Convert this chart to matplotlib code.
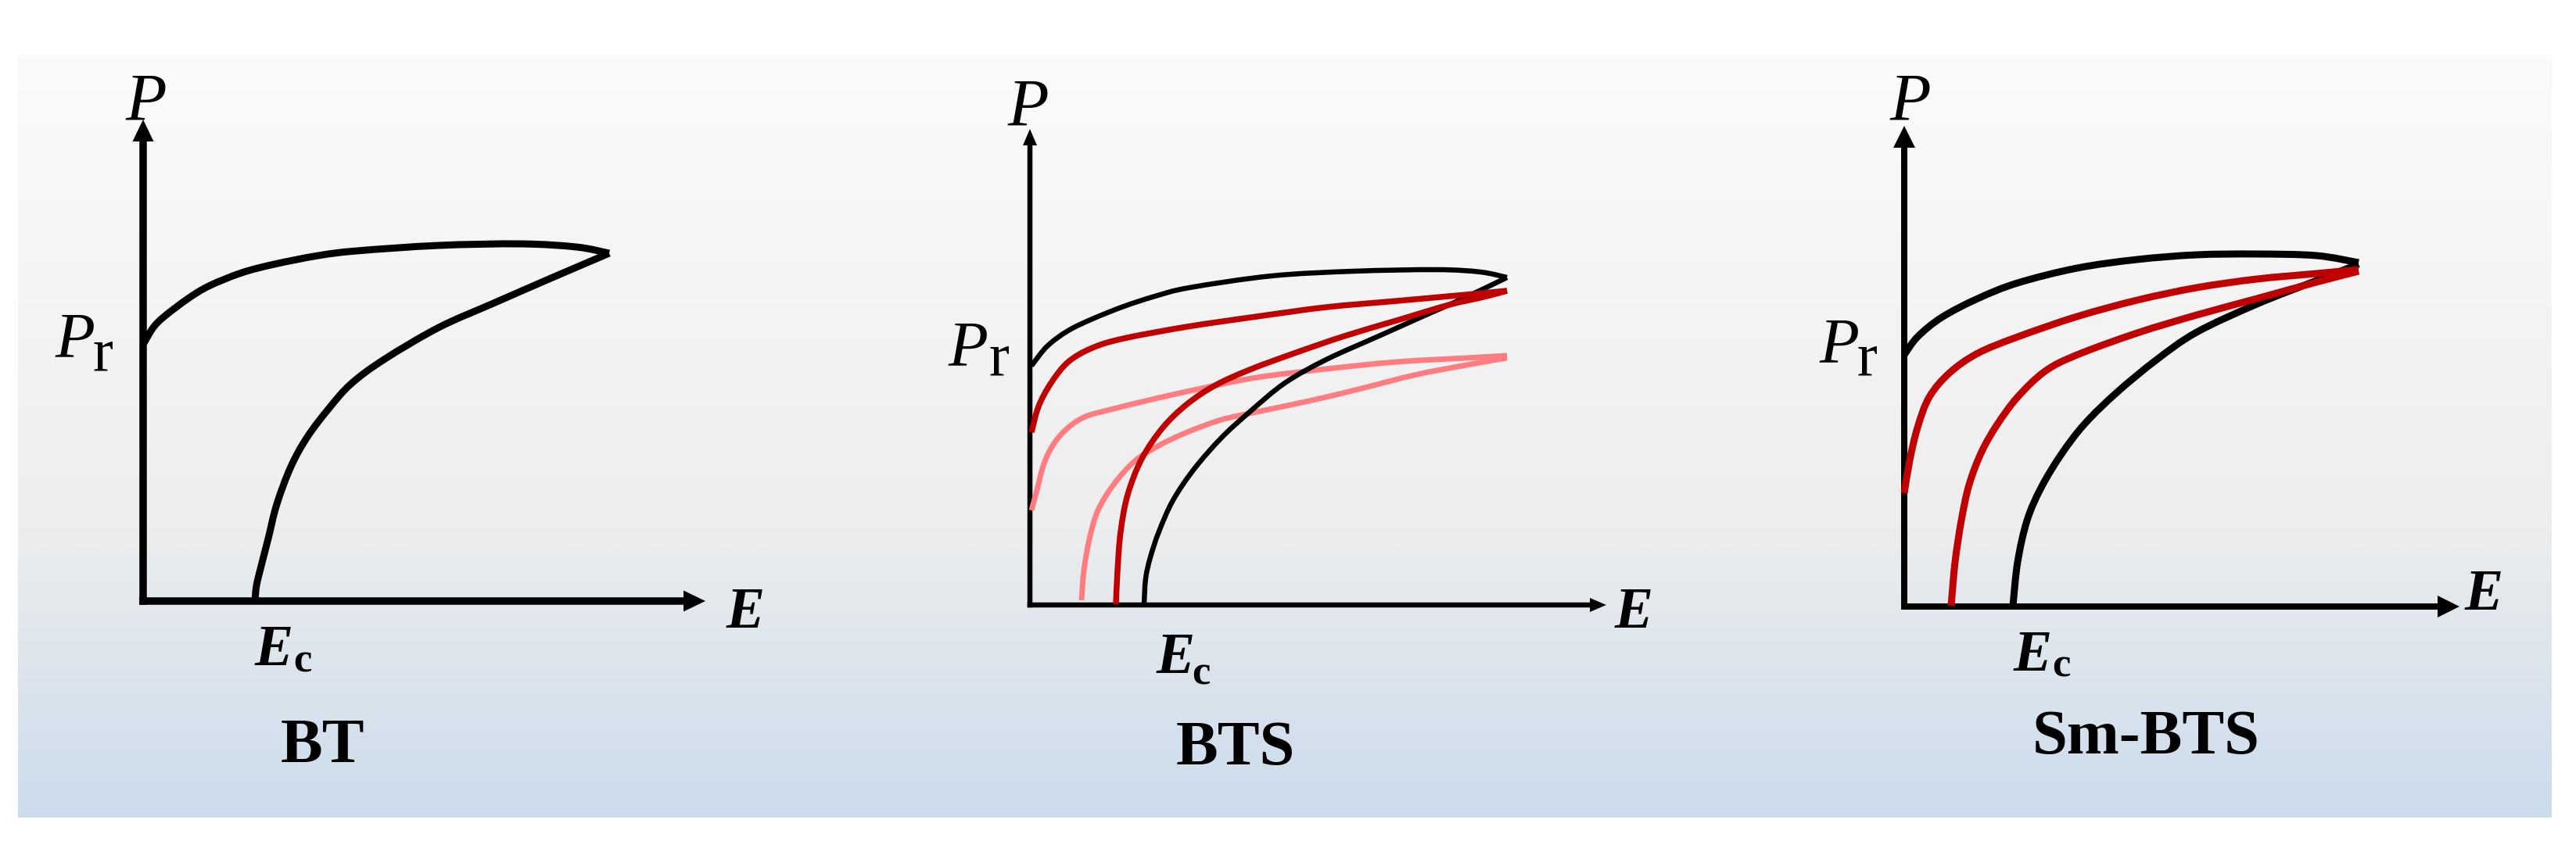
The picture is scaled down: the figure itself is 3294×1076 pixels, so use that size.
import numpy as np
import matplotlib.pyplot as plt
from matplotlib.colors import LinearSegmentedColormap
from matplotlib.path import Path
from matplotlib.patches import PathPatch

W, H = 3294, 1076
DPI = 100

# Schematic P-E branches (E, P in arbitrary units, origin at the axis corner)
# BT
bt_up_E = [0.01, 0.13, 0.27, 0.56, 0.84, 1.26, 1.68, 2.24, 2.73, 3.78, 4.83, 5.54, 5.96]
bt_up_P = [3.30, 3.50, 3.64, 3.86, 4.03, 4.20, 4.31, 4.42, 4.48, 4.55, 4.57, 4.53, 4.45]
bt_dn_E = [5.96, 5.19, 4.48, 3.78, 3.08, 2.66, 2.38, 2.10, 1.89, 1.71, 1.60, 1.51, 1.45, 1.43]
bt_dn_P = [4.45, 4.12, 3.81, 3.50, 3.09, 2.78, 2.47, 2.10, 1.72, 1.24, 0.80, 0.45, 0.20, 0.0]

# BTS
bts_k_up_E = [0.02, 0.22, 0.49, 0.80, 1.20, 1.60, 2.04, 3.09, 4.14, 5.20, 5.76, 6.10]
bts_k_up_P = [3.06, 3.31, 3.51, 3.66, 3.82, 3.95, 4.06, 4.21, 4.27, 4.29, 4.26, 4.19]
bts_k_dn_E = [6.10, 5.58, 5.13, 4.46, 3.79, 3.26, 2.81, 2.45, 2.10, 1.83, 1.65, 1.54, 1.48, 1.46]
bts_k_dn_P = [4.19, 3.94, 3.74, 3.44, 3.14, 2.84, 2.47, 2.14, 1.74, 1.34, 0.94, 0.61, 0.34, 0.02]
bts_r_up_E = [0.02, 0.11, 0.27, 0.49, 0.80, 1.20, 2.01, 2.90, 3.79, 4.69, 5.58, 6.10]
bts_r_up_P = [2.21, 2.54, 2.84, 3.11, 3.29, 3.41, 3.56, 3.69, 3.81, 3.89, 3.97, 4.02]
bts_r_dn_E = [6.10, 5.80, 5.36, 4.69, 4.02, 3.35, 2.81, 2.37, 2.01, 1.70, 1.43, 1.25, 1.16, 1.12, 1.10]
bts_r_dn_P = [4.02, 3.94, 3.84, 3.64, 3.44, 3.21, 3.01, 2.81, 2.57, 2.27, 1.87, 1.41, 0.94, 0.44, 0.01]
bts_p_up_E = [0.02, 0.09, 0.18, 0.31, 0.49, 0.71, 1.03, 1.56, 2.19, 2.90, 3.79, 4.69, 5.58, 6.10]
bts_p_up_P = [1.21, 1.47, 1.81, 2.07, 2.27, 2.41, 2.50, 2.63, 2.77, 2.91, 3.02, 3.11, 3.16, 3.19]
bts_p_dn_E = [6.10, 5.58, 4.91, 4.24, 3.57, 2.90, 2.45, 2.01, 1.65, 1.34, 1.07, 0.87, 0.76, 0.69, 0.66]
bts_p_dn_P = [3.16, 3.07, 2.94, 2.77, 2.61, 2.47, 2.37, 2.21, 2.04, 1.84, 1.54, 1.21, 0.84, 0.44, 0.06]

# Sm-BTS
sm_k_up_E = [0.0, 0.17, 0.48, 0.94, 1.45, 2.21, 2.98, 3.74, 4.51, 5.27, 5.81]
sm_k_up_P = [3.22, 3.45, 3.70, 3.94, 4.14, 4.33, 4.44, 4.50, 4.51, 4.49, 4.40]
sm_k_dn_E = [5.81, 5.27, 4.51, 3.74, 3.23, 2.72, 2.31, 2.01, 1.75, 1.57, 1.45, 1.39]
sm_k_dn_P = [4.38, 4.17, 3.87, 3.51, 3.16, 2.74, 2.34, 1.95, 1.52, 1.10, 0.57, 0.01]
sm_r_up_E = [0.0, 0.07, 0.17, 0.32, 0.58, 0.94, 1.45, 2.21, 2.98, 3.74, 4.51, 5.27, 5.81]
sm_r_up_P = [1.45, 1.87, 2.29, 2.68, 2.99, 3.24, 3.45, 3.71, 3.92, 4.08, 4.19, 4.26, 4.31]
sm_r_dn_E = [5.81, 5.27, 4.51, 3.74, 2.98, 2.21, 1.80, 1.45, 1.19, 0.99, 0.83, 0.73, 0.65, 0.60]
sm_r_dn_P = [4.29, 4.15, 3.94, 3.73, 3.50, 3.22, 3.01, 2.68, 2.33, 1.98, 1.56, 1.10, 0.57, 0.01]

titles = ['BT', 'BTS', 'Sm-BTS']

BLACK = 'black'
DARK_RED = '#c00000'
PINK = '#ff7c80'

# background gradient stops
bg_stops = [0.0, 0.6, 1.0]
bg_colors = ['#fbfbfb', '#eeeeee', '#cbdcec']

FONT = 'Liberation Serif'


def px(v):
    # pixels -> points at DPI
    return v * 72.0 / DPI


def smooth_path(E, P):
    # Catmull-Rom through the read points, as cubic bezier segments
    pts = np.column_stack([E, P]).astype(float)
    ext = np.vstack([pts[0], pts, pts[-1]])
    verts = [pts[0]]
    codes = [Path.MOVETO]
    for i in range(1, len(ext) - 2):
        p0, p1, p2, p3 = ext[i - 1], ext[i], ext[i + 1], ext[i + 2]
        verts += [p1 + (p2 - p0) / 6.0, p2 - (p3 - p1) / 6.0, p2]
        codes += [Path.CURVE4] * 3
    return Path(verts, codes)


fig = plt.figure(figsize=(W / DPI, H / DPI), dpi=DPI)
fig.patch.set_facecolor('white')

# background panel
ax_bg = fig.add_axes([0, 0, 1, 1])
ax_bg.set_xlim(0, W)
ax_bg.set_ylim(H, 0)
ax_bg.axis('off')
cmap = LinearSegmentedColormap.from_list('bg', list(zip(bg_stops, bg_colors)))
grad = np.linspace(0, 1, 256).reshape(-1, 1)
ax_bg.imshow(grad, cmap=cmap, aspect='auto', extent=[23, 3263, 1046, 70],
             interpolation='bilinear')

# layout for each panel: origin in px and drawing styles
layout = [
    dict(x0=183, y0=769, xtip=7.19, ytip=6.16, ax_lw=9.5, head=(28, 27),
         P=(0.04, 6.15), E=(7.46, -0.34), Pr=(-1.13, 3.13), r=(-0.64, 2.95),
         Ec=(1.43, -0.82), c=(1.92, -0.91), title=(2.29, -2.06)),
    dict(x0=1317, y0=774, xtip=7.37, ytip=6.09, ax_lw=6.5, head=(21, 18),
         P=(-0.02, 6.13), E=(7.48, -0.29), Pr=(-1.05, 3.07), r=(-0.52, 2.94),
         Ec=(1.62, -0.87), c=(2.07, -1.01), title=(2.63, -2.04)),
    dict(x0=2435, y0=776, xtip=7.10, ytip=6.15, ax_lw=8.0, head=(28, 28),
         P=(0.08, 6.22), E=(7.17, -0.04), Pr=(-1.09, 3.13), r=(-0.60, 2.96),
         Ec=(1.40, -0.82), c=(1.89, -0.89), title=(3.09, -1.88)),
]

curves = [
    [(bt_up_E, bt_up_P, BLACK, 9), (bt_dn_E, bt_dn_P, BLACK, 9)],
    [(bts_p_up_E, bts_p_up_P, PINK, 7), (bts_p_dn_E, bts_p_dn_P, PINK, 7),
     (bts_k_up_E, bts_k_up_P, BLACK, 6.5), (bts_k_dn_E, bts_k_dn_P, BLACK, 6.5),
     (bts_r_up_E, bts_r_up_P, DARK_RED, 7.5), (bts_r_dn_E, bts_r_dn_P, DARK_RED, 7.5)],
    [(sm_k_up_E, sm_k_up_P, BLACK, 9), (sm_k_dn_E, sm_k_dn_P, BLACK, 9),
     (sm_r_up_E, sm_r_up_P, DARK_RED, 9), (sm_r_dn_E, sm_r_dn_P, DARK_RED, 9)],
]

for lay, crv, title in zip(layout, curves, titles):
    x0, y0 = lay['x0'], lay['y0']
    ax = fig.add_axes([(x0 - 200) / W, (H - (y0 + 250)) / H, 1200 / W, 950 / H])
    ax.set_xlim(-2, 10)
    ax.set_ylim(-2.5, 7)
    ax.axis('off')
    ax.patch.set_alpha(0)

    w = lay['ax_lw'] / 100.0
    hl, hw = lay['head'][0] / 100.0, lay['head'][1] / 100.0
    ax.arrow(-w / 2, 0, lay['xtip'] + w / 2, 0, width=w, head_width=hw, head_length=hl,
             length_includes_head=True, fc='black', ec='none', zorder=2)
    ax.arrow(0, -w / 2, 0, lay['ytip'] + w / 2, width=w, head_width=hw, head_length=hl,
             length_includes_head=True, fc='black', ec='none', zorder=2)

    for E, P, col, lw in crv:
        ax.add_patch(PathPatch(smooth_path(E, P), fill=False, edgecolor=col,
                               lw=px(lw), joinstyle='round', capstyle='butt', zorder=3))

    ax.text(*lay['P'], 'P', family=FONT, style='italic', fontsize=62,
            ha='center', va='baseline')
    ax.text(*lay['E'], 'E', family=FONT, style='italic', weight='bold', fontsize=53,
            ha='left', va='baseline')
    ax.text(*lay['Pr'], 'P', family=FONT, style='italic', fontsize=60,
            ha='left', va='baseline')
    ax.text(*lay['r'], 'r', family=FONT, fontsize=56, ha='left', va='baseline')
    ax.text(*lay['Ec'], 'E', family=FONT, style='italic', weight='bold', fontsize=53,
            ha='left', va='baseline')
    ax.text(*lay['c'], 'c', family=FONT, weight='bold', fontsize=38,
            ha='left', va='baseline')
    ax.text(*lay['title'], title, family=FONT, weight='bold', fontsize=58,
            ha='center', va='baseline')

fig.savefig('out.png', dpi=DPI, facecolor='white')
